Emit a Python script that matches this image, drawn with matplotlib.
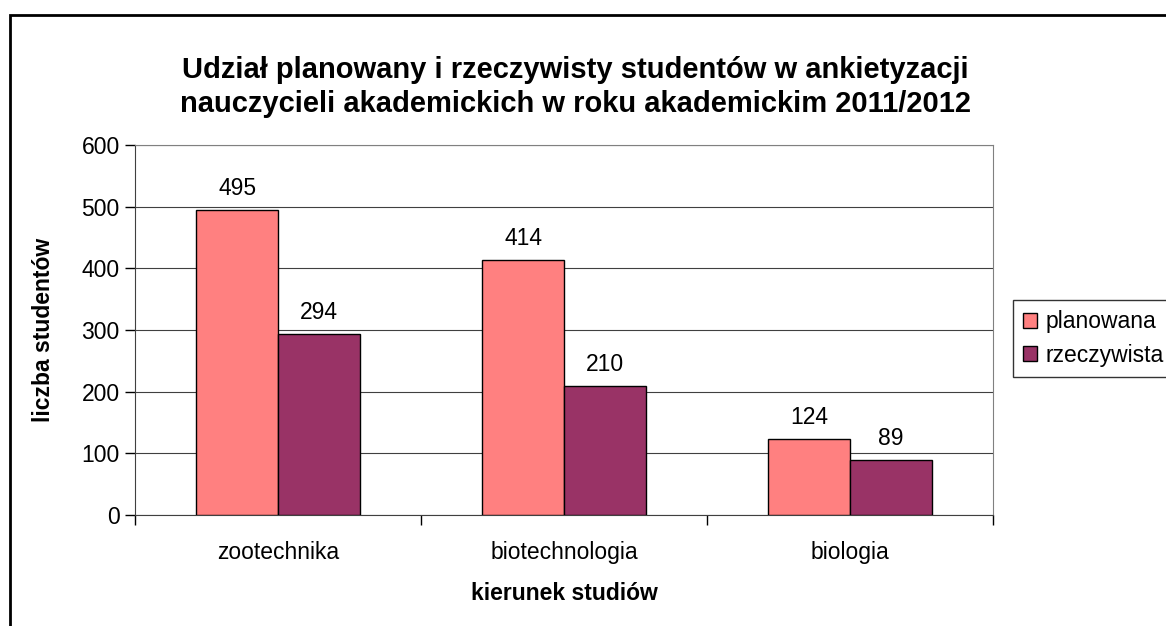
import matplotlib.pyplot as plt
import matplotlib.patches as patches
import numpy as np

plt.rcParams['font.family'] = ['Liberation Sans', 'DejaVu Sans']

categories = ['zootechnika', 'biotechnologia', 'biologia']
planowana = [495, 414, 124]
rzeczywista = [294, 210, 89]
series_names = ['planowana', 'rzeczywista']
yticks = [0, 100, 200, 300, 400, 500, 600]

W, H = 1166, 626
fs = 16.5
fig = plt.figure(figsize=(W / 100, H / 100), dpi=100)
ax = fig.add_axes([135 / W, 1 - 515 / H, (993 - 135) / W, (515 - 145) / H])

x = np.arange(len(categories))
bw = 0.286
b1 = ax.bar(x - bw / 2, planowana, bw, color='#FF8080', edgecolor='black', linewidth=1, zorder=3, label=series_names[0])
b2 = ax.bar(x + bw / 2, rzeczywista, bw, color='#993366', edgecolor='black', linewidth=1, zorder=3, label=series_names[1])

for bars in (b1, b2):
    for r in bars:
        ax.text(r.get_x() + r.get_width() / 2, r.get_height() + 16, str(int(r.get_height())),
                ha='center', va='bottom', fontsize=fs)

ax.set_xlim(-0.5, 2.5)
ax.set_ylim(0, 600)
ax.set_yticks(yticks)
ax.tick_params(axis='y', labelsize=fs, length=7, width=1, direction='out', pad=4)
ax.yaxis.grid(True, color='#404040', linewidth=0.8, zorder=0)

ax.set_xticks([-0.5, 0.5, 1.5, 2.5])
ax.set_xticklabels([])
ax.tick_params(axis='x', length=7, width=1, direction='out')
ax.set_xticks(x, minor=True)
ax.set_xticklabels(categories, minor=True, fontsize=fs)
ax.tick_params(axis='x', which='minor', length=0, pad=19)

for s in ('top', 'right'):
    ax.spines[s].set_color('#808080')
for s in ('left', 'bottom'):
    ax.spines[s].set_color('#404040')

ax.set_ylabel('liczba studentów', fontsize=fs, fontweight='bold', labelpad=19)
ax.set_xlabel('kierunek studiów', fontsize=fs, fontweight='bold', labelpad=13)

fig.text(575 / W, 1 - 87 / H,
         'Udział planowany i rzeczywisty studentów w ankietyzacji\nnauczycieli akademickich w roku akademickim 2011/2012',
         ha='center', va='center', fontsize=21, fontweight='bold', linespacing=1.3)

leg = ax.legend(loc='upper left', bbox_to_anchor=(1013 / W, 1 - 300 / H), bbox_transform=fig.transFigure,
                fontsize=fs, frameon=True, fancybox=False, edgecolor='black', borderaxespad=0,
                handlelength=0.6, handleheight=0.6, handletextpad=0.35, labelspacing=0.45,
                borderpad=0.45)
leg.get_frame().set_linewidth(1)

fig.patches.append(patches.Rectangle((10 / W, -0.1), 1.2, 1 - 15 / H + 0.1, transform=fig.transFigure,
                                     fill=False, edgecolor='black', linewidth=2, clip_on=False))

fig.savefig('out.png', dpi=100)
